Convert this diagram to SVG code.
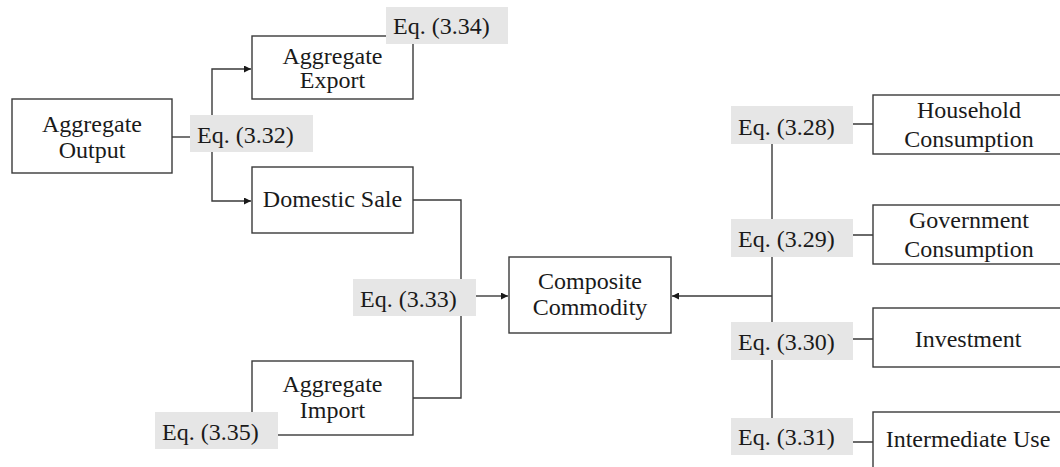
<svg xmlns="http://www.w3.org/2000/svg" width="1060" height="467" viewBox="0 0 1060 467">
<style>
.box{fill:#fff;stroke:#3a3a3a;stroke-width:1.4}
.eq{fill:#e6e6e6;stroke:none}
.t{font-family:'Liberation Serif','Tinos','DejaVu Serif',serif;font-size:24px;fill:#1a1a1a}
.c{text-anchor:middle}
.ln{fill:none;stroke:#3a3a3a;stroke-width:1.4}
</style>
<defs>
<marker id="ar" viewBox="0 0 10 10" refX="10" refY="5" markerWidth="7" markerHeight="7" markerUnits="userSpaceOnUse" orient="auto">
<path d="M0,0 L10,5 L0,10 z" fill="#1a1a1a"/>
</marker>
</defs>
<rect width="1060" height="467" fill="#fff"/>
<g id="connectors">
<path class="ln" d="M172,137 H190"/>
<path class="ln" d="M212,115 V69 H251" marker-end="url(#ar)"/>
<path class="ln" d="M212,152 V201 H251" marker-end="url(#ar)"/>
<path class="ln" d="M413,200 H461 V279"/>
<path class="ln" d="M461,316 V398 H413"/>
<path class="ln" d="M476,296 H508" marker-end="url(#ar)"/>
<path class="ln" d="M772,144 V219 M772,257 V322 M772,360 V418"/>
<path class="ln" d="M772,296 H672" marker-end="url(#ar)"/>
<path class="ln" d="M853,124 H873 M853,235 H873 M853,339 H873 M853,442 H873"/>
</g>
<g id="aggregate-output">
<rect class="box" x="12" y="99" width="160" height="74"/>
<text class="t c" x="92" y="132" font-family="Liberation Serif, serif">Aggregate</text>
<text class="t c" x="92" y="158" font-family="Liberation Serif, serif">Output</text>
</g>
<g id="aggregate-export">
<rect class="box" x="252" y="36" width="161" height="63"/>
<text class="t c" x="332.5" y="64">Aggregate</text>
<text class="t c" x="332.5" y="88">Export</text>
</g>
<g id="domestic-sale">
<rect class="box" x="252" y="167" width="161" height="66"/>
<text class="t c" x="332.5" y="207">Domestic Sale</text>
</g>
<g id="aggregate-import">
<rect class="box" x="252" y="361" width="161" height="74"/>
<text class="t c" x="332.5" y="392">Aggregate</text>
<text class="t c" x="332.5" y="418">Import</text>
</g>
<g id="composite-commodity">
<rect class="box" x="509" y="257" width="162" height="76"/>
<text class="t c" x="590" y="289">Composite</text>
<text class="t c" x="590" y="315">Commodity</text>
</g>
<g id="household-consumption">
<rect class="box" x="873" y="95" width="192" height="59"/>
<text class="t c" x="969" y="118">Household</text>
<text class="t c" x="969" y="147">Consumption</text>
</g>
<g id="government-consumption">
<rect class="box" x="873" y="205" width="192" height="59"/>
<text class="t c" x="969" y="228">Government</text>
<text class="t c" x="969" y="257">Consumption</text>
</g>
<g id="investment">
<rect class="box" x="873" y="308" width="192" height="59"/>
<text class="t c" x="968" y="347">Investment</text>
</g>
<g id="intermediate-use">
<rect class="box" x="873" y="412" width="192" height="70"/>
<text class="t c" x="968" y="447">Intermediate Use</text>
</g>
<g id="eq-3-32">
<rect class="eq" x="190" y="115" width="123" height="37"/>
<text class="t" x="197" y="143">Eq. (3.32)</text>
</g>
<g id="eq-3-34">
<rect class="eq" x="386" y="7" width="122" height="37"/>
<text class="t" x="393" y="34">Eq. (3.34)</text>
</g>
<g id="eq-3-33">
<rect class="eq" x="353" y="279" width="123" height="37"/>
<text class="t" x="360" y="307">Eq. (3.33)</text>
</g>
<g id="eq-3-35">
<rect class="eq" x="155" y="412" width="123" height="37"/>
<text class="t" x="162" y="440">Eq. (3.35)</text>
</g>
<g id="eq-3-28">
<rect class="eq" x="731" y="106" width="122" height="38"/>
<text class="t" x="738" y="135">Eq. (3.28)</text>
</g>
<g id="eq-3-29">
<rect class="eq" x="731" y="219" width="122" height="38"/>
<text class="t" x="738" y="247">Eq. (3.29)</text>
</g>
<g id="eq-3-30">
<rect class="eq" x="731" y="322" width="122" height="38"/>
<text class="t" x="738" y="350">Eq. (3.30)</text>
</g>
<g id="eq-3-31">
<rect class="eq" x="731" y="418" width="122" height="37"/>
<text class="t" x="738" y="445">Eq. (3.31)</text>
</g>
</svg>
